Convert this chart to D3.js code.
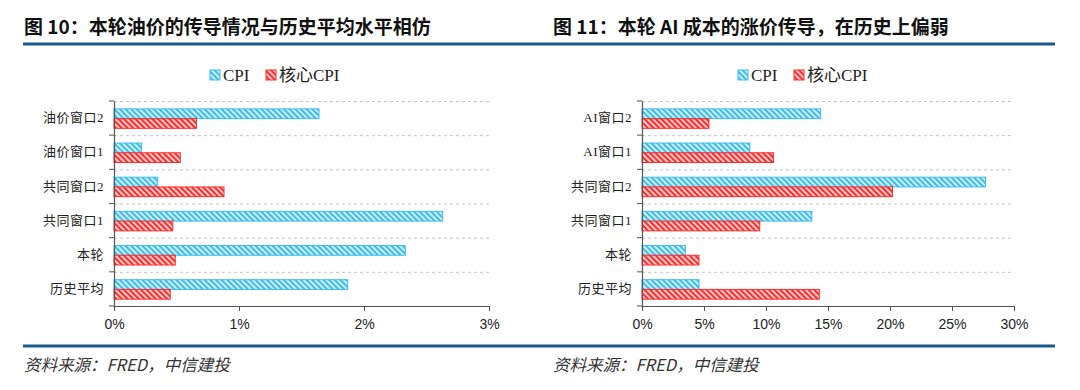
<!DOCTYPE html>
<html>
<head>
<meta charset="utf-8">
<script src="https://cdn.jsdelivr.net/npm/d3@7"></script>
<style>
  body { margin: 0; background: #fff; }
  svg { display: block; }
</style>
</head>
<body>
<svg width="1080" height="390"></svg>
<script>
// 图10 数据（%）
var leftCats = ["油价窗口2", "油价窗口1", "共同窗口2", "共同窗口1", "本轮", "历史平均"];
var leftCPI = [1.64, 0.22, 0.35, 2.63, 2.33, 1.87];
var leftCore = [0.66, 0.53, 0.88, 0.47, 0.49, 0.45];
var leftTicks = [0, 1, 2, 3];

// 图11 数据（%）
var rightCats = ["AI窗口2", "AI窗口1", "共同窗口2", "共同窗口1", "本轮", "历史平均"];
var rightCPI = [14.4, 8.7, 27.7, 13.7, 3.5, 4.6];
var rightCore = [5.4, 10.6, 20.2, 9.5, 4.6, 14.3];
var rightTicks = [0, 5, 10, 15, 20, 25, 30];

var seriesNames = ["CPI", "核心CPI"];
var colors = ["#3dbdee", "#ff2c2c"];

var svg = d3.select("svg");
var cjk = "'Noto Sans CJK SC', sans-serif";
var serif = "'Liberation Serif', 'Noto Sans CJK SC', serif";

// 斜纹填充
var defs = svg.append("defs");
colors.forEach(function(c, i) {
    var p = defs.append("pattern")
        .attr("id", "hatch" + i)
        .attr("patternUnits", "userSpaceOnUse")
        .attr("width", 4).attr("height", 4)
        .attr("patternTransform", "rotate(-45)");
    p.append("rect").attr("width", 4).attr("height", 4).attr("fill", c);
    p.append("line").attr("x1", 1).attr("y1", 0).attr("x2", 1).attr("y2", 4)
        .attr("stroke", "#fff").attr("stroke-width", 1.5);
});

// 标题与蓝线
svg.append("text").attr("x", 24).attr("y", 34)
    .attr("font-family", cjk).attr("font-weight", "bold").attr("font-size", 19).attr("fill", "#111")
    .text("图 10：本轮油价的传导情况与历史平均水平相仿");
svg.append("text").attr("x", 553).attr("y", 34)
    .attr("font-family", cjk).attr("font-weight", "bold").attr("font-size", 19).attr("fill", "#111")
    .text("图 11：本轮 AI 成本的涨价传导，在历史上偏弱");
svg.append("line").attr("x1", 23).attr("x2", 1055).attr("y1", 44).attr("y2", 44)
    .attr("stroke", "#1b5a8b").attr("stroke-width", 3);
svg.append("line").attr("x1", 23).attr("x2", 1055).attr("y1", 346).attr("y2", 346)
    .attr("stroke", "#1b5a8b").attr("stroke-width", 3);

// 资料来源
[24, 553].forEach(function(x) {
    svg.append("text").attr("x", x).attr("y", 371)
        .attr("font-family", cjk).attr("font-style", "italic").attr("font-size", 16.5).attr("fill", "#333")
        .text("资料来源：FRED，中信建投");
});

function drawChart(cats, cpi, core, ticks, x0, x1, legendX) {
    var top = 101, bottom = 306;
    var x = d3.scaleLinear().domain([ticks[0], ticks[ticks.length - 1]]).range([x0, x1]);
    var y = d3.scaleBand().domain(cats).range([top, bottom]);
    var b = y.bandwidth();
    var inner = d3.scaleBand().domain([0, 1]).range([0.23 * b, 0.8 * b]);
    var g = svg.append("g");

    // 网格虚线
    var bounds = cats.map(function(c) { return y(c); });
    g.selectAll(".grid").data(bounds).enter().append("line")
        .attr("x1", x0).attr("x2", x1)
        .attr("y1", d => d + 0.5).attr("y2", d => d + 0.5)
        .attr("stroke", "#c4c4c4").attr("stroke-dasharray", "3,3");

    // 柱子
    var rows = cats.map(function(c, i) { return {cat: c, vals: [cpi[i], core[i]]}; });
    var rg = g.selectAll(".row").data(rows).enter().append("g")
        .attr("transform", d => "translate(0," + y(d.cat) + ")");
    rg.selectAll("rect").data(d => d.vals).enter().append("rect")
        .attr("x", x(0))
        .attr("y", (d, i) => inner(i))
        .attr("width", d => x(d) - x(0))
        .attr("height", inner.bandwidth())
        .attr("fill", (d, i) => "url(#hatch" + i + ")")
        .attr("stroke", (d, i) => colors[i])
        .attr("stroke-width", 1);

    // x 轴
    var xAxis = d3.axisBottom(x).tickValues(ticks).tickSize(5).tickSizeOuter(0)
        .tickFormat(d => d + "%");
    var xa = g.append("g").attr("transform", "translate(0," + bottom + ")").call(xAxis);
    xa.select(".domain").attr("stroke", "#555").attr("stroke-width", 1.2);
    xa.selectAll(".tick line").attr("stroke", "#555");
    xa.selectAll("text").attr("font-family", "'Liberation Sans', Arial, sans-serif")
        .attr("font-size", 14).attr("fill", "#222").attr("dy", "1.05em");

    // y 轴
    var yAxis = d3.axisLeft(y).tickSize(0).tickPadding(10);
    var ya = g.append("g").attr("transform", "translate(" + x0 + ",0)").call(yAxis);
    ya.select(".domain").attr("stroke", "#555").attr("stroke-width", 1.2);
    ya.selectAll("text").attr("font-family", serif).attr("font-size", 13).attr("fill", "#222")
        .attr("letter-spacing", 0.5);
    g.selectAll(".ytick").data(bounds.concat([bottom])).enter().append("line")
        .attr("x1", x0 - 5).attr("x2", x0)
        .attr("y1", d => d).attr("y2", d => d)
        .attr("stroke", "#555");

    // 图例
    var lg = g.append("g").attr("transform", "translate(" + legendX + ",70)");
    var offs = [0, 56];
    seriesNames.forEach(function(n, i) {
        lg.append("rect").attr("x", offs[i]).attr("y", 0).attr("width", 10).attr("height", 10)
            .attr("fill", "url(#hatch" + i + ")").attr("stroke", colors[i]);
        lg.append("text").attr("x", offs[i] + 13).attr("y", 10.5)
            .attr("font-family", serif).attr("font-size", 17).attr("fill", "#222")
            .text(n);
    });
}

drawChart(leftCats, leftCPI, leftCore, leftTicks, 114, 489, 210);
drawChart(rightCats, rightCPI, rightCore, rightTicks, 642, 1014, 738);
</script>
</body>
</html>
